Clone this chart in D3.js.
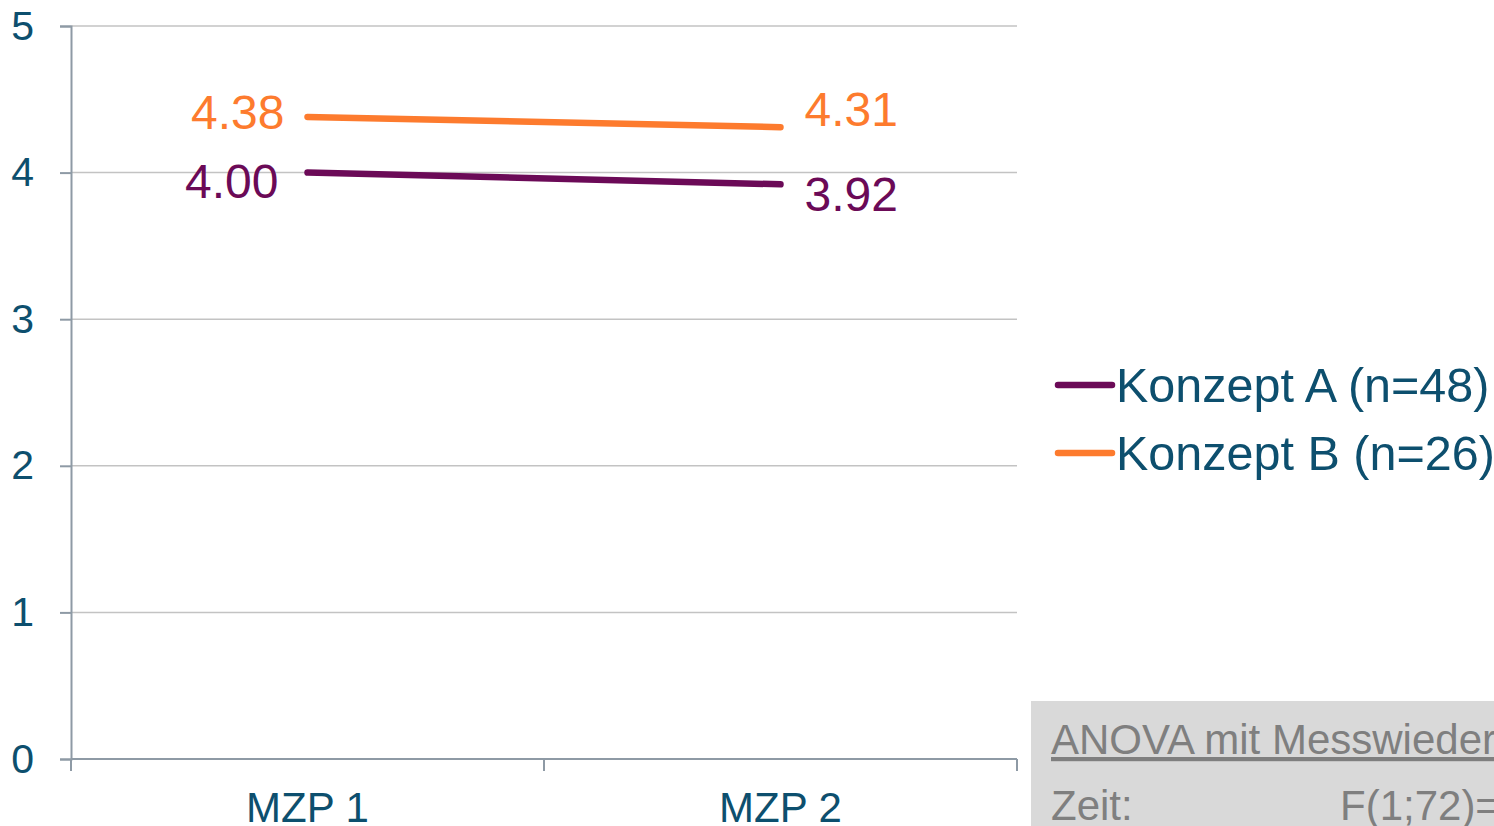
<!DOCTYPE html>
<html>
<head>
<meta charset="utf-8">
<script src="https://cdn.jsdelivr.net/npm/d3@7"></script>
<style>
  html, body { margin: 0; padding: 0; background: #fff; overflow: hidden; }
  svg { display: block; font-family: "Liberation Sans", Arial, sans-serif; }
</style>
</head>
<body>
<svg id="chart"></svg>
<script>
// data
const categories = ['MZP 1', 'MZP 2'];
const seriesNames = ['Konzept A (n=48)', 'Konzept B (n=26)'];
const konzeptA = [4.00, 3.92];
const konzeptB = [4.38, 4.31];
const yTicks = [0, 1, 2, 3, 4, 5];

const width = 1494;
const height = 826;
const margin = { top: 26, right: 477, bottom: 67, left: 71 };

const colors = { a: '#6b0a57', b: '#fd7b2e', text: '#0d4f6e' };

const svg = d3.select('#chart')
  .attr('width', width)
  .attr('height', height);

// scales
const x = d3.scaleBand()
  .domain(categories)
  .range([margin.left, width - margin.right]);

const y = d3.scaleLinear()
  .domain([0, 5])
  .range([height - margin.bottom, margin.top]);

// gridlines
svg.append('g')
  .selectAll('line')
  .data(yTicks.filter(d => d > 0))
  .join('line')
  .attr('x1', margin.left)
  .attr('x2', width - margin.right)
  .attr('y1', d => y(d))
  .attr('y2', d => y(d))
  .attr('stroke', '#c3c3c3')
  .attr('stroke-width', 1.5);

// y axis
const yAxis = svg.append('g')
  .attr('transform', `translate(${margin.left},0)`)
  .call(d3.axisLeft(y).tickValues(yTicks).tickSize(11).tickPadding(26).tickFormat(d3.format('d')));
yAxis.select('.domain').attr('stroke', '#8e9aa5').attr('stroke-width', 2);
yAxis.selectAll('.tick line').attr('stroke', '#8e9aa5').attr('stroke-width', 2);
yAxis.selectAll('.tick text')
  .attr('fill', colors.text)
  .attr('font-size', 41)
  .attr('font-family', '"Liberation Sans", Arial, sans-serif')
  .attr('dy', '0.32em');

// x axis
const xEdges = [margin.left, ...categories.slice(1).map(c => x(c)), width - margin.right];
const xAxisG = svg.append('g');
xAxisG.append('line')
  .attr('x1', margin.left).attr('x2', width - margin.right)
  .attr('y1', y(0)).attr('y2', y(0))
  .attr('stroke', '#8e9aa5').attr('stroke-width', 2);
xAxisG.selectAll('.xtick')
  .data(xEdges)
  .join('line')
  .attr('class', 'xtick')
  .attr('x1', d => d).attr('x2', d => d)
  .attr('y1', y(0)).attr('y2', y(0) + 12)
  .attr('stroke', '#8e9aa5').attr('stroke-width', 2);
xAxisG.selectAll('.xlabel')
  .data(categories)
  .join('text')
  .attr('class', 'xlabel')
  .attr('x', d => x(d) + x.bandwidth() / 2)
  .attr('y', height - 4)
  .attr('text-anchor', 'middle')
  .attr('fill', colors.text)
  .attr('font-size', 42)
  .text(d => d);

// lines
const line = d3.line()
  .x((d, i) => x(categories[i]) + x.bandwidth() / 2)
  .y(d => y(d));

const series = [
  { key: 'a', name: seriesNames[0], values: konzeptA, color: colors.a, labelDy: [25, 27], labelDx: [-29, 24] },
  { key: 'b', name: seriesNames[1], values: konzeptB, color: colors.b, labelDy: [12, -1], labelDx: [-23, 24] }
];

series.forEach(s => {
  svg.append('path')
    .datum(s.values)
    .attr('fill', 'none')
    .attr('stroke', s.color)
    .attr('stroke-width', 6.5)
    .attr('stroke-linecap', 'round')
    .attr('d', line);

  svg.selectAll(`.label-${s.key}`)
    .data(s.values)
    .join('text')
    .attr('class', `label-${s.key}`)
    .attr('x', (d, i) => x(categories[i]) + x.bandwidth() / 2 + s.labelDx[i])
    .attr('y', (d, i) => y(d) + s.labelDy[i])
    .attr('text-anchor', (d, i) => i === 0 ? 'end' : 'start')
    .attr('fill', s.color)
    .attr('font-size', 48)
    .text(d => d.toFixed(2));
});

// legend
const legend = svg.append('g').attr('transform', 'translate(1058,385)');
series.forEach((s, i) => {
  const g = legend.append('g').attr('transform', `translate(0,${i * 68})`);
  g.append('line')
    .attr('x1', 0).attr('x2', 54)
    .attr('stroke', s.color)
    .attr('stroke-width', 6.5)
    .attr('stroke-linecap', 'round');
  g.append('text')
    .attr('x', 58)
    .attr('y', 17)
    .attr('fill', colors.text)
    .attr('font-size', 48.5)
    .text(s.name);
});

// statistics box
const box = svg.append('g').attr('transform', 'translate(1031,701)');
box.append('rect')
  .attr('width', width - 1031)
  .attr('height', height - 701)
  .attr('fill', '#d9d9d9');
box.append('text')
  .attr('x', 20).attr('y', 53)
  .attr('fill', '#7f7f7f')
  .attr('font-size', 42)
  .attr('text-decoration', 'underline')
  .text('ANOVA mit Messwiederholung');
box.append('text')
  .attr('x', 20).attr('y', 119)
  .attr('fill', '#7f7f7f')
  .attr('font-size', 42)
  .text('Zeit:');
box.append('text')
  .attr('x', 309).attr('y', 119)
  .attr('fill', '#7f7f7f')
  .attr('font-size', 42)
  .text('F(1;72)=');
</script>
</body>
</html>
